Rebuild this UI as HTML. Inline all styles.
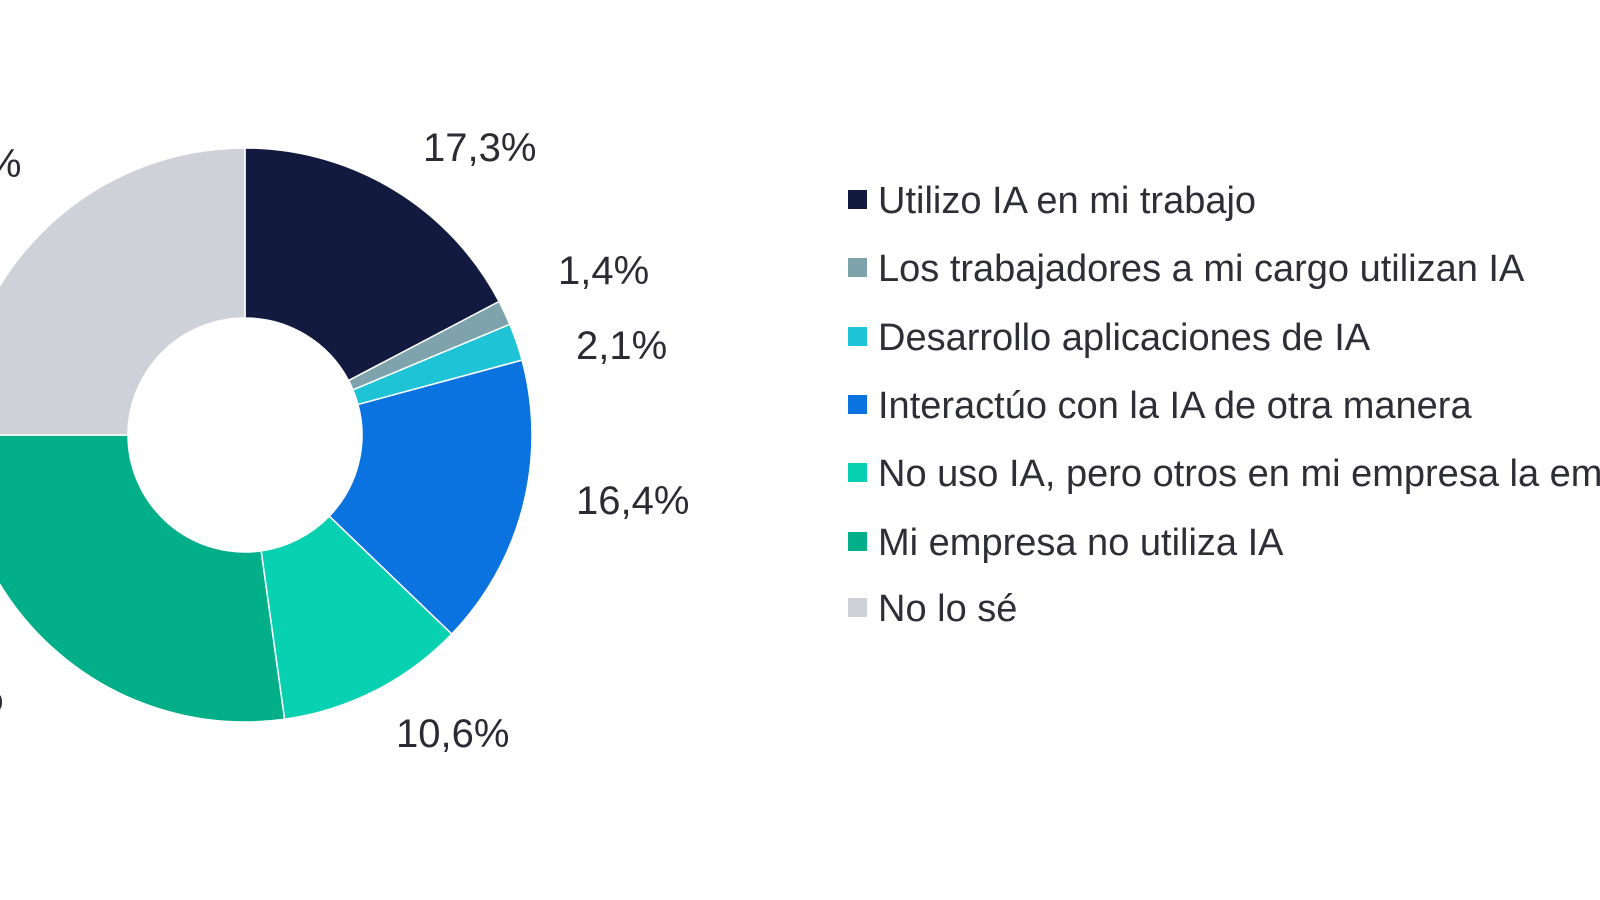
<!DOCTYPE html>
<html><head><meta charset="utf-8"><style>
html,body{margin:0;padding:0;background:#fff;width:1600px;height:900px;overflow:hidden}
svg{display:block}
.lbl{font-family:"Liberation Sans",sans-serif;font-size:40px;fill:#2b2b33}
.lg{font-family:"Liberation Sans Narrow","Liberation Sans",sans-serif;font-size:38px;fill:#2e2e36}
</style></head><body>
<svg id="s" width="1600" height="900" viewBox="0 0 1600 900">
<g id="pie"></g>
<text class="lbl" x="423" y="161">17,3%</text>
<text class="lbl" x="558" y="284">1,4%</text>
<text class="lbl" x="576" y="359">2,1%</text>
<text class="lbl" x="576" y="514">16,4%</text>
<text class="lbl" x="396" y="747">10,6%</text>
<text class="lbl" x="-92" y="177">25,0%</text>
<text class="lbl" x="-110" y="711">27,2%</text>
<g>
<rect x="848" y="190" width="19" height="19" fill="#131a40"/><text class="lg" x="878" y="213">Utilizo IA en mi trabajo</text>
<rect x="848" y="258" width="19" height="19" fill="#7fa3ad"/><text class="lg" x="878" y="281">Los trabajadores a mi cargo utilizan IA</text>
<rect x="848" y="327" width="19" height="19" fill="#1ec3d6"/><text class="lg" x="878" y="350">Desarrollo aplicaciones de IA</text>
<rect x="848" y="395" width="19" height="19" fill="#0a73e0"/><text class="lg" x="878" y="418">Interactúo con la IA de otra manera</text>
<rect x="848" y="463" width="19" height="19" fill="#08d1b1"/><text class="lg" x="878" y="486">No uso IA, pero otros en mi empresa la emplean</text>
<rect x="848" y="532" width="19" height="19" fill="#03af88"/><text class="lg" x="878" y="555">Mi empresa no utiliza IA</text>
<rect x="848" y="598" width="19" height="19" fill="#cfd1d9"/><text class="lg" x="878" y="621">No lo sé</text>
</g>
</svg>
<script>
var cx=245,cy=435,R=287,r=117;
var d=[[17.3,"#131a40"],[1.4,"#7fa3ad"],[2.1,"#1ec3d6"],[16.4,"#0a73e0"],[10.6,"#08d1b1"],[27.2,"#03af88"],[25.0,"#cfd1d9"]];
var a=0,g=document.getElementById("pie"),h="";
function p(rad,t){var an=t/100*2*Math.PI;return [cx+rad*Math.sin(an),cy-rad*Math.cos(an)];}
d.forEach(function(s){var b=a+s[0],l=s[0]>50?1:0;
var p1=p(R,a),p2=p(R,b),p3=p(r,b),p4=p(r,a);
h+='<path d="M'+p1+' A'+R+','+R+' 0 '+l+' 1 '+p2+' L'+p3+' A'+r+','+r+' 0 '+l+' 0 '+p4+' Z" fill="'+s[1]+'" stroke="#fff" stroke-width="1.5"/>';
a=b;});
g.innerHTML=h;
</script>
</body></html>
